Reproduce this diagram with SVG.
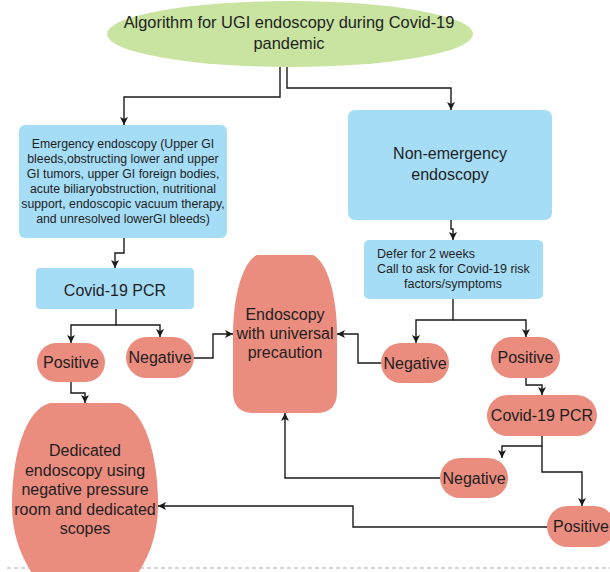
<svg xmlns="http://www.w3.org/2000/svg" width="610" height="572" viewBox="0 0 610 572">
<defs>
<marker id="arr" markerUnits="userSpaceOnUse" markerWidth="9" markerHeight="9" refX="8" refY="4" orient="auto">
<path d="M0,0 L8,4 L0,8 L2,4 Z" fill="#1a1a1a"/>
</marker>
<style>
text{font-family:"Liberation Sans",Arial,sans-serif;fill:#1e1e1e;text-anchor:middle}
.blue{fill:#a6ddf6}
.sal{fill:#ea8c7e}
.green{fill:#c8e4a0}
.t16{font-size:16px}
.t12{font-size:12.3px}
.conn path{fill:none;stroke:#1a1a1a;stroke-width:1.4;marker-end:url(#arr)}
</style>
</defs>
<rect width="610" height="572" fill="#ffffff"/>
<line x1="7" y1="568" x2="610" y2="568" stroke="#c8c8c8" stroke-width="1.5" stroke-dasharray="4 3"/>

<g id="title">
<ellipse class="green" cx="290" cy="34" rx="183" ry="33"/>
<text class="t16" x="289" y="28" style="font-size:16.4px">Algorithm for UGI endoscopy during Covid-19</text>
<text class="t16" x="289" y="49" style="font-size:16.4px">pandemic</text>
</g>

<g id="emergency">
<rect class="blue" x="19" y="125" width="208" height="113" rx="6"/>
<text class="t12" x="123" y="147.5">Emergency endoscopy (Upper GI</text>
<text class="t12" x="123" y="162.5">bleeds,obstructing lower and upper</text>
<text class="t12" x="123" y="177.6">GI tumors, upper GI foreign bodies,</text>
<text class="t12" x="123" y="192.8">acute biliaryobstruction, nutritional</text>
<text class="t12" x="123" y="207.9">support, endoscopic vacuum therapy,</text>
<text class="t12" x="123" y="223">and unresolved lowerGI bleeds)</text>
</g>

<g id="pcr-left">
<rect class="blue" x="36" y="268" width="158" height="41" rx="4"/>
<text class="t16" x="115" y="296">Covid-19 PCR</text>
</g>

<g id="nonemergency">
<rect class="blue" x="348" y="110" width="204" height="110" rx="7"/>
<text class="t16" x="450" y="159">Non-emergency</text>
<text class="t16" x="450" y="180">endoscopy</text>
</g>

<g id="defer">
<rect class="blue" x="364" y="240" width="179" height="59" rx="5"/>
<text x="377" y="257.5" style="font-size:12.5px;text-anchor:start">Defer for 2 weeks</text>
<text x="377" y="272.5" style="font-size:12.5px;text-anchor:start">Call to ask for Covid-19 risk</text>
<text x="453" y="287.5" style="font-size:12.5px">factors/symptoms</text>
</g>

<g id="positive-left">
<rect class="sal" x="37" y="343" width="68" height="39" rx="19.5"/>
<text class="t16" x="71" y="368">Positive</text>
</g>

<g id="negative-left">
<rect class="sal" x="126" y="337" width="68" height="41" rx="20.5"/>
<text class="t16" x="160" y="363">Negative</text>
</g>

<g id="universal">
<path class="sal" d="M257 255 L313 255 C327 262 337 295 337 335 L337 392 Q337 413 316 413 L254 413 Q233 413 233 392 L233 335 C233 295 243 262 257 255 Z"/>
<text class="t16" x="285" y="320">Endoscopy</text>
<text class="t16" x="285" y="339">with universal</text>
<text class="t16" x="285" y="358">precaution</text>
</g>

<g id="negative-right">
<rect class="sal" x="381" y="343" width="68" height="40" rx="20"/>
<text class="t16" x="415" y="369">Negative</text>
</g>

<g id="positive-right">
<rect class="sal" x="491" y="337" width="69" height="41" rx="20.5"/>
<text class="t16" x="525.5" y="363">Positive</text>
</g>

<g id="pcr-right">
<rect class="sal" x="487" y="395" width="110" height="41" rx="20.5"/>
<text class="t16" x="542" y="421">Covid-19 PCR</text>
</g>

<g id="negative-lower">
<rect class="sal" x="440" y="458" width="68" height="40" rx="20"/>
<text class="t16" x="474" y="484">Negative</text>
</g>

<g id="positive-lower">
<rect class="sal" x="547" y="506" width="68" height="41" rx="20.5"/>
<text class="t16" x="581" y="532">Positive</text>
</g>

<g id="dedicated">
<path class="sal" d="M50 403 L120 403 C145 410 158 455 158 505 C158 540 145 570 120 595 L50 595 C25 570 12 540 12 505 C12 455 25 410 50 403 Z"/>
<text class="t16" x="85" y="456">Dedicated</text>
<text class="t16" x="85" y="475.5">endoscopy using</text>
<text class="t16" x="85" y="495">negative pressure</text>
<text class="t16" x="85" y="514.5">room and dedicated</text>
<text class="t16" x="85" y="534">scopes</text>
</g>

<g id="connectors" class="conn">
<path d="M280 67 V97 H124 V125"/>
<path d="M287 67 V88 H451 V110"/>
<path d="M124 238 V253 H115 V268"/>
<path d="M116 309 V325 H71 V343"/>
<path d="M116 325 H160 V337"/>
<path d="M71 382 V393 H85 V403"/>
<path d="M194 358 H213 V334 H233"/>
<path d="M451 220 V229 H453 V240"/>
<path d="M453 299 V320 H416 V343"/>
<path d="M453 320 H526 V337"/>
<path d="M381 363 H358 V334 H337"/>
<path d="M526 378 V385 H542 V395"/>
<path d="M542 436 V446 H502 V458"/>
<path d="M542 446 V472 H582 V506"/>
<path d="M440 478 H285 V413"/>
<path d="M547 527 H353 V506 H158"/>
</g>
</svg>
